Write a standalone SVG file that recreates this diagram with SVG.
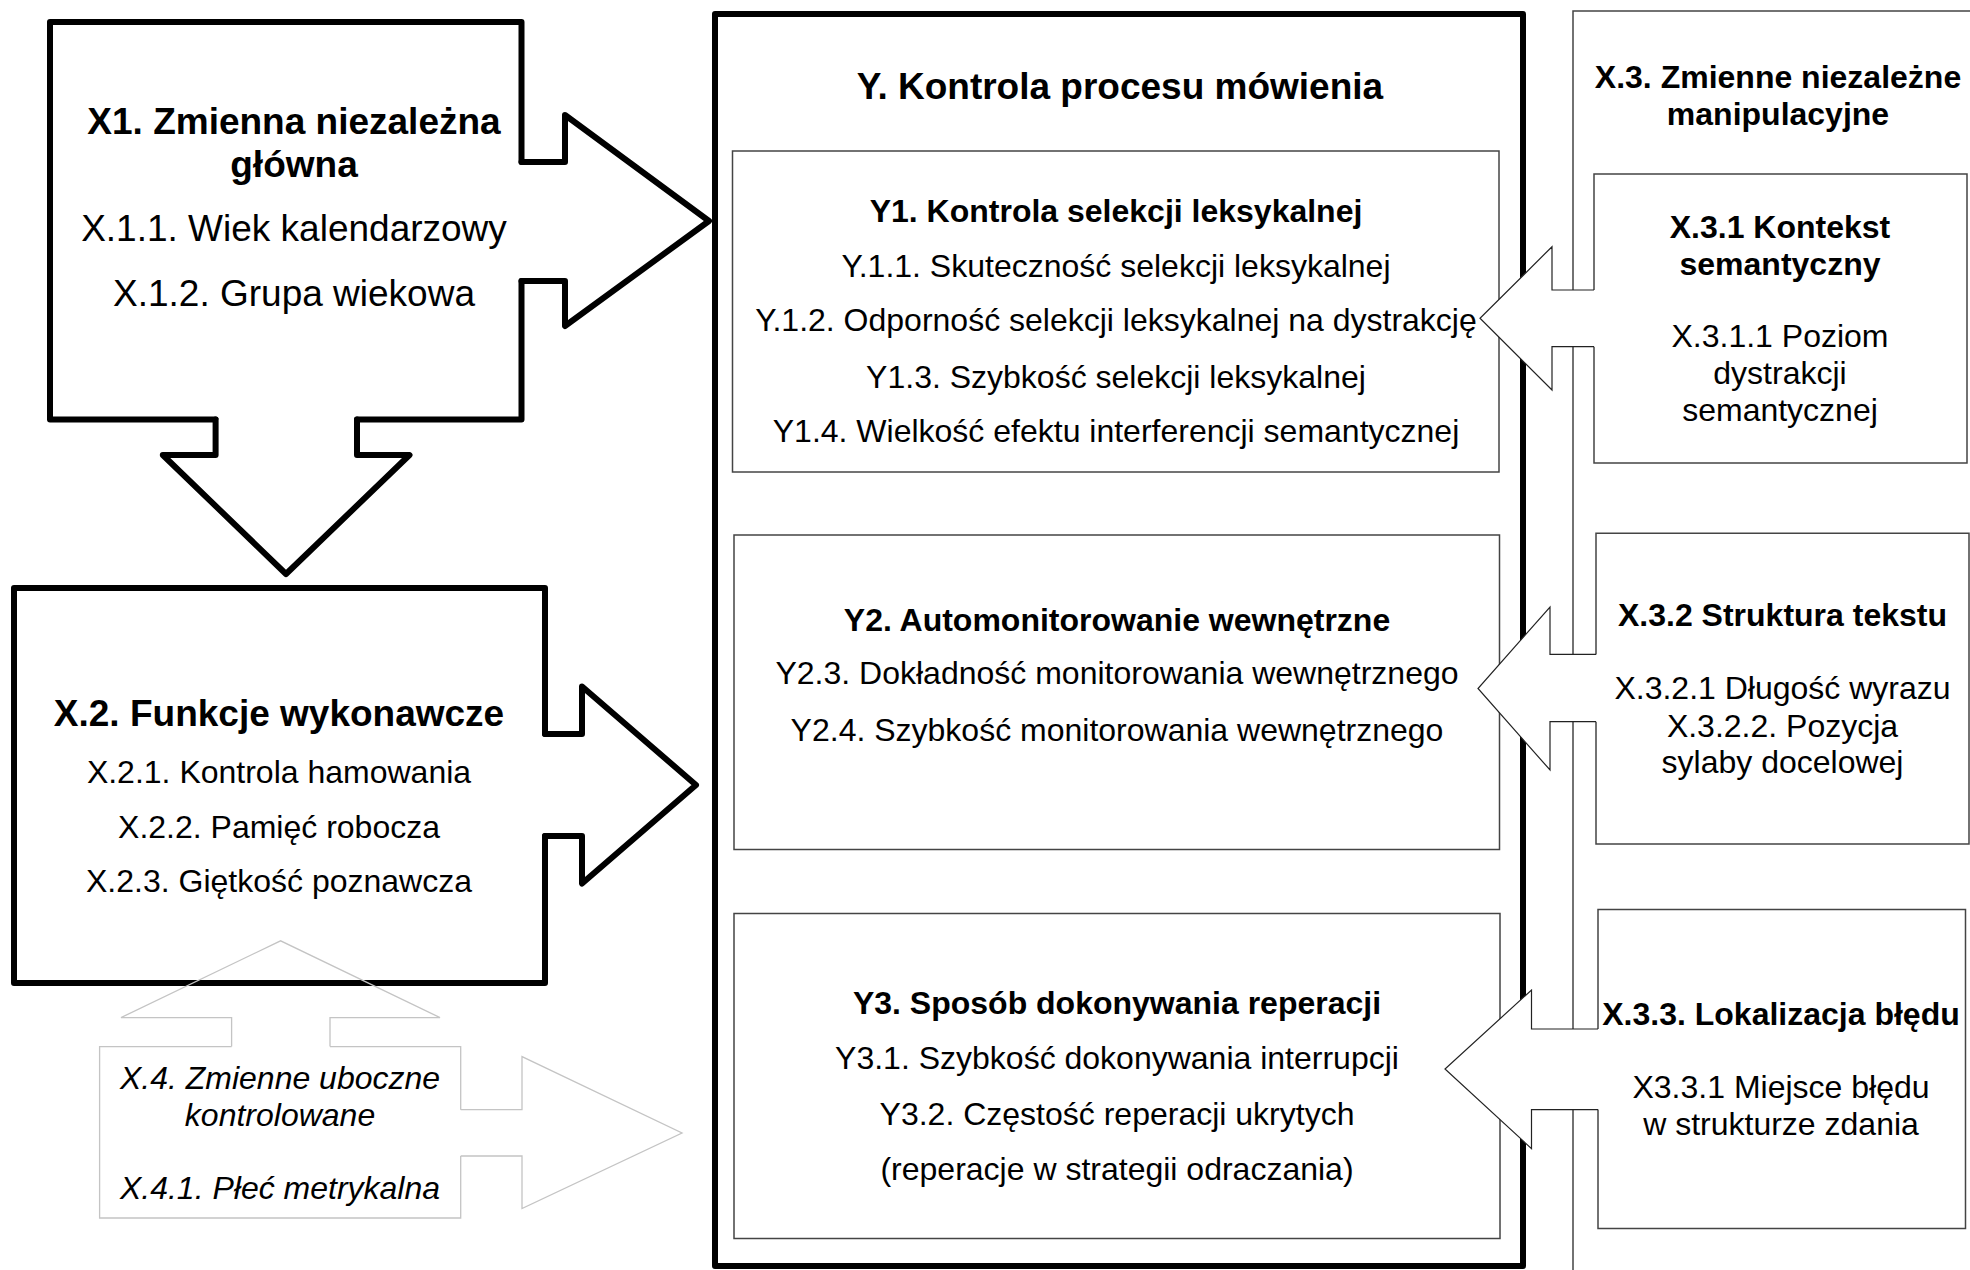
<svg xmlns="http://www.w3.org/2000/svg" width="1970" height="1270" viewBox="0 0 1970 1270">
<style>
.t{font-family:"Liberation Sans",Arial,sans-serif;text-anchor:middle;fill:#000}
.b{font-weight:bold}
.s37{font-size:37px}
.s32{font-size:32px}
.i{font-style:italic}
.thick{fill:none;stroke:#000;stroke-width:6;stroke-linejoin:round;stroke-linecap:round}
.thickf{fill:#fff;stroke:#000;stroke-width:6;stroke-linejoin:round;stroke-linecap:round}
.box{fill:#fff;stroke:#444;stroke-width:1.5}
.boxo{fill:#fff;stroke:#444;stroke-width:1.5}
.arr{fill:#fff;stroke:#222;stroke-width:1.2;stroke-linejoin:miter}
.gray{fill:none;stroke:#c4c4c4;stroke-width:1.3}
</style>
<rect width="1970" height="1270" fill="#fff"/>

<g id="node-y">
<rect x="715" y="14" width="808" height="1252" class="thickf"/>
<text class="t b s37" x="1120" y="98.6">Y. Kontrola procesu mówienia</text>
</g>
<g id="node-y1">
<rect x="732.5" y="151" width="766.5" height="321" class="box"/>
<text class="t b s32" x="1116" y="221.6">Y1. Kontrola selekcji leksykalnej</text>
<text class="t s32" x="1116" y="277.4">Y.1.1. Skuteczność selekcji leksykalnej</text>
<text class="t s32" x="1116" y="331">Y.1.2. Odporność selekcji leksykalnej na dystrakcję</text>
<text class="t s32" x="1116" y="387.5">Y1.3. Szybkość selekcji leksykalnej</text>
<text class="t s32" x="1116" y="442">Y1.4. Wielkość efektu interferencji semantycznej</text>
</g>
<g id="node-y2">
<rect x="734" y="535" width="765.5" height="314.5" class="box"/>
<text class="t b s32" x="1117" y="630.5">Y2. Automonitorowanie wewnętrzne</text>
<text class="t s32" x="1117" y="684">Y2.3. Dokładność monitorowania wewnętrznego</text>
<text class="t s32" x="1117" y="740.5">Y2.4. Szybkość monitorowania wewnętrznego</text>
</g>
<g id="node-y3">
<rect x="734" y="913.5" width="766" height="325" class="box"/>
<text class="t b s32" x="1117" y="1014">Y3. Sposób dokonywania reperacji</text>
<text class="t s32" x="1117" y="1069">Y3.1. Szybkość dokonywania interrupcji</text>
<text class="t s32" x="1117" y="1125">Y3.2. Częstość reperacji ukrytych</text>
<text class="t s32" x="1117" y="1180">(reperacje w strategii odraczania)</text>
</g>

<g id="node-x1">
<path class="thickf" d="M521.5,162 L521.5,22 L50,22 L50,419.5 L215.6,419.5 L357,419.5 L521.5,419.5 L521.5,281 Z" style="stroke:none"/>
<path class="thick" d="M215.6,419.5 L50,419.5 L50,22 L521.5,22 L521.5,162 M521.5,281 L521.5,419.5 L357,419.5"/>
<text class="t b s37" x="294" y="134">X1. Zmienna niezależna</text>
<text class="t b s37" x="294" y="177">główna</text>
<text class="t s37" x="294" y="241">X.1.1. Wiek kalendarzowy</text>
<text class="t s37" x="294" y="305.5">X.1.2. Grupa wiekowa</text>
</g>

<g id="node-x2">
<path class="thick" d="M545,734 L545,588 L14,588 L14,983 L545,983 L545,836"/>
<text class="t b s37" x="279" y="726">X.2. Funkcje wykonawcze</text>
<text class="t s32" x="279" y="783">X.2.1. Kontrola hamowania</text>
<text class="t s32" x="279" y="838">X.2.2. Pamięć robocza</text>
<text class="t s32" x="279" y="892">X.2.3. Giętkość poznawcza</text>
</g>

<g id="node-x4">
<path class="gray" d="M231.6,1046.6 L99.6,1046.6 L99.6,1218 L460.7,1218 L460.7,1156 M460.7,1109.7 L460.7,1046.6 L330,1046.6"/>
<text class="t i s32" x="280" y="1089">X.4. Zmienne uboczne</text>
<text class="t i s32" x="280" y="1125.5">kontrolowane</text>
<text class="t i s32" x="280" y="1199">X.4.1. Płeć metrykalna</text>
</g>

<g id="node-x3">
<rect x="1573" y="11" width="420" height="1280" class="boxo"/>
<text class="t b s32" x="1778" y="88.3">X.3. Zmienne niezależne</text>
<text class="t b s32" x="1778" y="125">manipulacyjne</text>
</g>
<g id="node-x31">
<path class="box" d="M1594,290 L1594,174 L1967,174 L1967,463 L1594,463 L1594,346.7"/>
<text class="t b s32" x="1780" y="238.3">X.3.1 Kontekst</text>
<text class="t b s32" x="1780" y="275">semantyczny</text>
<text class="t s32" x="1780" y="346.7">X.3.1.1 Poziom</text>
<text class="t s32" x="1780" y="384">dystrakcji</text>
<text class="t s32" x="1780" y="420.7">semantycznej</text>
</g>
<g id="node-x32">
<path class="box" d="M1596,654.4 L1596,533.3 L1969,533.3 L1969,844 L1596,844 L1596,721.7"/>
<text class="t b s32" x="1782.5" y="626.3">X.3.2 Struktura tekstu</text>
<text class="t s32" x="1782.5" y="699">X.3.2.1 Długość wyrazu</text>
<text class="t s32" x="1782.5" y="736.8">X.3.2.2. Pozycja</text>
<text class="t s32" x="1782.5" y="773">sylaby docelowej</text>
</g>
<g id="node-x33">
<path class="box" d="M1598,1029 L1598,909.5 L1965.5,909.5 L1965.5,1228.5 L1598,1228.5 L1598,1109.6"/>
<text class="t b s32" x="1781" y="1025">X.3.3. Lokalizacja błędu</text>
<text class="t s32" x="1781" y="1098">X3.3.1 Miejsce błędu</text>
<text class="t s32" x="1781" y="1135.4">w strukturze zdania</text>
</g>

<g id="connectors">
<path class="thickf" d="M521.5,162 L565,162 L565,115 L709,221 L565,326 L565,281 L521.5,281"/>
<path class="thickf" d="M215.6,419.5 L215.6,455 L162.8,455 L286,574 L409.5,455 L357,455 L357,419.5"/>
<path class="thickf" d="M545,734 L582,734 L582,686.5 L696,785 L582,883.5 L582,836 L545,836"/>
<path class="gray" d="M231.6,1046.6 L231.6,1017.6 L121,1017.6 L280.6,940.8 L440,1017.6 L330,1017.6 L330,1046.6"/>
<path class="gray" d="M460.7,1109.7 L522,1109.7 L522,1056.6 L682,1133 L522,1208.5 L522,1156 L460.7,1156"/>
<path class="arr" d="M1594,290 L1552,290 L1552,246.7 L1480,318.3 L1552,390 L1552,346.7 L1594,346.7"/>
<path class="arr" d="M1596,654.4 L1550,654.4 L1550,607 L1478,688.5 L1550,770 L1550,721.7 L1596,721.7"/>
<path class="arr" d="M1598,1029 L1531.5,1029 L1531.5,990 L1445,1069 L1531.5,1148.6 L1531.5,1109.6 L1598,1109.6"/>
</g>
</svg>
